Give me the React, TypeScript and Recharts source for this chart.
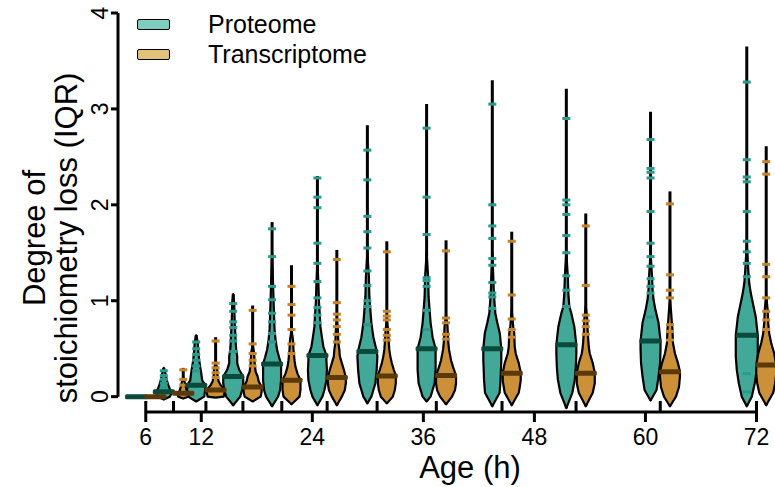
import React from 'react';
import { ComposedChart, Scatter, XAxis, YAxis, ReferenceLine, Legend } from 'recharts';

// sampling ages (h) and axis ticks
const timepoints = [6, 9, 12.5, 16.5, 20.7, 25.6, 31, 37.4, 44.5, 52.5, 61.6, 72];
const ageTicks = [6, 12, 24, 36, 48, 60, 72];
const lossTicks = [0, 1, 2, 3, 4];
const seriesNames = ['Proteome', 'Transcriptome'];

// medians, whisker ranges
const proteomeMedian = [0, 0.05, 0.12, 0.21, 0.34, 0.43, 0.47, 0.5, 0.5, 0.54, 0.58, 0.64];
const proteomeMax = [0, 0.3, 0.64, 1.07, 1.82, 2.3, 2.83, 3.05, 3.3, 3.21, 2.97, 3.65];
const proteomeMin = [0, -0.03, -0.05, -0.09, -0.1, -0.09, -0.07, -0.05, -0.1, -0.12, -0.04, -0.1];

const transcriptomeMedian = [0, 0.035, 0.07, 0.1, 0.17, 0.2, 0.215, 0.22, 0.245, 0.245, 0.26, 0.33];
const transcriptomeMax = [0, 0.3, 0.62, 0.95, 1.37, 1.53, 1.62, 1.63, 1.72, 1.91, 2.14, 2.61];
const transcriptomeMin = [0, -0.02, -0.01, -0.05, -0.08, -0.09, -0.07, -0.08, -0.09, -0.1, -0.1, -0.09];

// violin density profiles: [value, relative density]
const proteomeDensity: [number, number][][] = [
  [],
  [[-0.03, 0], [0, 0.6], [0.04, 0.8], [0.08, 0.6], [0.12, 0.45], [0.17, 0.3], [0.23, 0.2], [0.3, 0]],
  [[-0.05, 0], [0, 0.8], [0.07, 0.9], [0.12, 0.9], [0.17, 0.6], [0.25, 0.5], [0.31, 0.4], [0.38, 0.3], [0.48, 0.2], [0.57, 0.15], [0.64, 0]],
  [[-0.09, 0], [0, 0.7], [0.07, 0.9], [0.14, 1.0], [0.21, 1.0], [0.28, 0.6], [0.35, 0.4], [0.42, 0.4], [0.49, 0.3], [0.56, 0.25], [0.67, 0.2], [0.77, 0.15], [0.98, 0.1], [1.07, 0]],
  [[-0.1, 0], [0, 0.6], [0.07, 0.8], [0.17, 0.9], [0.28, 0.9], [0.34, 0.9], [0.41, 0.7], [0.49, 0.5], [0.59, 0.35], [0.7, 0.25], [0.83, 0.2], [1.0, 0.15], [1.18, 0.1], [1.5, 0]],
  [[-0.09, 0], [0, 0.5], [0.07, 0.7], [0.17, 0.9], [0.28, 0.95], [0.38, 0.9], [0.43, 0.9], [0.52, 0.6], [0.62, 0.45], [0.73, 0.3], [0.83, 0.25], [1.0, 0.15], [1.18, 0.1], [1.4, 0]],
  [[-0.07, 0], [0, 0.4], [0.14, 0.8], [0.28, 0.93], [0.42, 1.0], [0.49, 0.9], [0.62, 0.6], [0.77, 0.4], [0.9, 0.3], [1.04, 0.2], [1.25, 0.15], [1.5, 0]],
  [[-0.05, 0], [0, 0.4], [0.14, 0.8], [0.28, 0.9], [0.42, 0.9], [0.5, 0.9], [0.62, 0.6], [0.77, 0.4], [0.9, 0.3], [1.04, 0.2], [1.25, 0.15], [1.5, 0]],
  [[-0.1, 0], [0.04, 0.73], [0.18, 0.83], [0.25, 0.85], [0.38, 0.9], [0.5, 0.9], [0.66, 0.75], [0.77, 0.5], [0.87, 0.3], [0.94, 0.25], [1.08, 0.15], [1.25, 0.1], [1.5, 0]],
  [[-0.12, 0], [0.04, 0.6], [0.18, 0.85], [0.31, 0.95], [0.45, 1.0], [0.54, 1.0], [0.73, 0.8], [0.87, 0.5], [0.94, 0.3], [1.08, 0.2], [1.25, 0.15], [1.5, 0]],
  [[-0.04, 0], [0.07, 0.6], [0.21, 0.8], [0.35, 0.95], [0.49, 1.0], [0.58, 1.0], [0.77, 0.8], [0.9, 0.5], [1.01, 0.3], [1.12, 0.2], [1.25, 0.15], [1.5, 0]],
  [[-0.1, 0], [0, 0.5], [0.14, 0.8], [0.28, 1.0], [0.42, 1.1], [0.56, 1.1], [0.64, 1.1], [0.83, 0.9], [0.98, 0.6], [1.08, 0.4], [1.18, 0.25], [1.32, 0.15], [1.6, 0]],
];

const transcriptomeDensity: [number, number][][] = [
  [],
  [[-0.02, 0], [0, 0.5], [0.03, 0.6], [0.05, 0.4], [0.1, 0.25], [0.15, 0.15], [0.2, 0]],
  [[-0.01, 0], [0, 0.8], [0.05, 0.9], [0.07, 0.9], [0.12, 0.5], [0.16, 0.3], [0.21, 0.2], [0.3, 0.15], [0.35, 0]],
  [[-0.05, 0], [0, 0.8], [0.05, 0.9], [0.1, 0.9], [0.16, 0.6], [0.21, 0.5], [0.26, 0.3], [0.35, 0.2], [0.45, 0.15], [0.55, 0]],
  [[-0.08, 0], [0, 0.8], [0.07, 0.9], [0.17, 0.9], [0.24, 0.6], [0.31, 0.4], [0.38, 0.3], [0.49, 0.2], [0.59, 0.15], [0.7, 0]],
  [[-0.09, 0], [0, 0.5], [0.07, 0.8], [0.14, 0.9], [0.2, 0.9], [0.28, 0.7], [0.35, 0.5], [0.42, 0.3], [0.49, 0.25], [0.56, 0.15], [0.7, 0.1], [0.8, 0]],
  [[-0.07, 0], [0, 0.6], [0.07, 0.8], [0.14, 0.9], [0.22, 0.9], [0.28, 0.7], [0.35, 0.5], [0.42, 0.35], [0.49, 0.25], [0.56, 0.2], [0.7, 0.12], [0.8, 0]],
  [[-0.08, 0], [0, 0.6], [0.07, 0.9], [0.14, 1.0], [0.22, 1.0], [0.31, 0.7], [0.38, 0.5], [0.49, 0.3], [0.59, 0.2], [0.73, 0.15], [0.85, 0]],
  [[-0.09, 0], [0.04, 0.7], [0.1, 0.8], [0.17, 0.9], [0.25, 0.9], [0.35, 0.7], [0.45, 0.4], [0.52, 0.3], [0.66, 0.25], [0.73, 0.15], [0.9, 0]],
  [[-0.1, 0], [0.04, 0.7], [0.14, 0.9], [0.25, 0.9], [0.35, 0.7], [0.45, 0.4], [0.52, 0.3], [0.66, 0.2], [0.8, 0.15], [0.95, 0]],
  [[-0.1, 0], [0, 0.6], [0.1, 0.9], [0.21, 1.0], [0.26, 1.0], [0.35, 0.8], [0.45, 0.5], [0.56, 0.3], [0.7, 0.25], [0.76, 0.2], [0.9, 0.1], [1.0, 0]],
  [[-0.09, 0], [0.04, 0.7], [0.14, 0.9], [0.24, 1.0], [0.33, 1.0], [0.45, 0.8], [0.56, 0.5], [0.66, 0.3], [0.77, 0.2], [0.9, 0.15], [1.05, 0]],
];

// individual points visible along the whiskers
const proteomePoints = [
  [],
  [0.27, 0.22, 0.18, 0.14, 0.1],
  [0.57, 0.5, 0.44, 0.38, 0.32, 0.27],
  [0.97, 0.89, 0.78, 0.72, 0.64, 0.58, 0.47],
  [1.75, 1.46, 1.15, 1.01, 0.87, 0.78, 0.66, 0.57],
  [2.28, 2.08, 1.97, 1.6, 1.39, 1.2, 1.03, 0.93, 0.85, 0.77],
  [2.57, 2.26, 1.88, 1.72, 1.55, 1.31, 1.16, 1.0, 0.94, 0.75],
  [2.8, 2.08, 1.69, 1.24, 1.21, 1.15, 0.9, 0.7],
  [3.05, 2.0, 1.78, 1.65, 1.44, 1.37, 1.19, 1.08, 1.04, 0.92],
  [2.9, 2.05, 2.0, 1.9, 1.68, 1.5, 1.26, 1.11, 0.94],
  [2.68, 2.38, 2.34, 2.28, 1.93, 1.6, 1.46, 1.36, 1.23, 1.15, 1.08, 0.83],
  [3.28, 2.47, 2.29, 2.24, 1.93, 1.62, 1.51, 1.39, 1.25, 0.24, 0.05],
];

const transcriptomePoints = [
  [],
  [0.28, 0.18, 0.12],
  [0.58, 0.35, 0.3, 0.25, 0.2],
  [0.9, 0.55, 0.45, 0.38, 0.32],
  [1.15, 0.96, 0.85, 0.7, 0.55, 0.45],
  [1.43, 0.98, 0.86, 0.8, 0.73, 0.65, 0.57],
  [1.51, 0.89, 0.84, 0.8, 0.7, 0.64, 0.59],
  [1.52, 0.82, 0.77, 0.65, 0.6],
  [1.62, 1.06, 0.81, 0.7, 0.62],
  [1.78, 1.16, 0.85, 0.79, 0.73, 0.65],
  [2.01, 1.27, 1.11, 1.03, 0.75, 0.68, 0.59],
  [2.45, 2.32, 1.38, 1.25, 1.03, 0.89, 0.8, 0.7],
];

const FONT = '"Liberation Sans", Arial, Helvetica, sans-serif';
const DODGE = 1.05; // hours either side of the sampling age
const HALF_WIDTH = 1.08; // hours for a density of 1
const Y_BASE = -0.16;

const groups = [
  { name: seriesNames[0], offset: -DODGE, median: proteomeMedian, max: proteomeMax, min: proteomeMin, density: proteomeDensity, points: proteomePoints, fill: '#42a898', dot: '#2a9a8c', dark: '#0a4a3b', key: '#7fcdbf' },
  { name: seriesNames[1], offset: DODGE, median: transcriptomeMedian, max: transcriptomeMax, min: transcriptomeMin, density: transcriptomeDensity, points: transcriptomePoints, fill: '#cc9038', dot: '#c4832a', dark: '#5a390b', key: '#e2c17c' },
];

const outline = (center: number, dens: [number, number][]) => {
  const right = dens.map(([v, d]) => ({ x: center + d * HALF_WIDTH, y: v }));
  const left = dens.slice().reverse().map(([v, d]) => ({ x: center - d * HALF_WIDTH, y: v }));
  return [...right, ...left];
};

const polygon = (fill: string) => (p: any) => {
  const pts = (p.points || []).filter((pt: any) => pt.x != null && pt.y != null);
  if (!pts.length) return <g />;
  const d = pts.map((pt: any, i: number) => `${i ? 'L' : 'M'}${pt.x},${pt.y}`).join('') + 'Z';
  return <path d={d} fill={fill} stroke="#000" strokeWidth={2.2} strokeLinejoin="round" />;
};

const whisker = (p: any) => {
  const pts = p.points || [];
  if (pts.length < 2) return <g />;
  return <line x1={pts[0].x} y1={pts[0].y} x2={pts[1].x} y2={pts[1].y} stroke="#000" strokeWidth={3} />;
};

const noDot = () => <g />;

const XTick = (props: any) => {
  const { x, y, payload } = props;
  return (
    <text x={x} y={y + 21} textAnchor="middle" fontSize={23} fontFamily={FONT} fill="#000">
      {payload.value}
    </text>
  );
};

const YTick = (props: any) => {
  const { x, y, payload } = props;
  return (
    <text x={x} y={y} transform={`rotate(-90, ${x}, ${y})`} textAnchor="middle" fontSize={23} fontFamily={FONT} fill="#000">
      {payload.value}
    </text>
  );
};

const YTitle = () => {
  const cy = 238;
  return (
    <g fontFamily={FONT} fontSize={31} fill="#000">
      <text x={45} y={cy} transform={`rotate(-90, 45, ${cy})`} textAnchor="middle">Degree of</text>
      <text x={77} y={cy} transform={`rotate(-90, 77, ${cy})`} textAnchor="middle">stoichiometry loss (IQR)</text>
    </g>
  );
};

const XTitle = () => (
  <text x={470} y={478} textAnchor="middle" fontFamily={FONT} fontSize={31} fill="#000">Age (h)</text>
);

const LegendBox = () => (
  <div style={{ fontFamily: FONT, fontSize: 25, color: '#000', lineHeight: '30px' }}>
    {groups.map((g) => (
      <div key={g.name} style={{ display: 'flex', alignItems: 'center', height: 30 }}>
        <span style={{ display: 'inline-block', width: 31, height: 9, background: g.key, border: '1.5px solid #000', borderRadius: 2, marginRight: 38 }} />
        {g.name}
      </div>
    ))}
  </div>
);

export default function App() {
  return (
    <div style={{ position: 'absolute', left: 0, top: 0, background: '#fff' }}>
      <ComposedChart width={775} height={487} margin={{ top: 13, right: 0, bottom: 0, left: 0 }}>
        <XAxis
          type="number"
          dataKey="x"
          domain={[3, 74]}
          allowDataOverflow
          ticks={ageTicks}
          interval={0}
          height={75}
          axisLine={false}
          tickSize={10}
          tickLine={{ stroke: '#000', strokeWidth: 3 }}
          tick={<XTick />}
          label={<XTitle />}
        />
        <YAxis
          type="number"
          dataKey="y"
          domain={[Y_BASE, 4]}
          allowDataOverflow
          ticks={lossTicks}
          interval={0}
          width={118}
          axisLine={false}
          tickSize={7}
          tickMargin={3}
          tickLine={{ stroke: '#000', strokeWidth: 3 }}
          tick={<YTick />}
          label={<YTitle />}
        />
        <ReferenceLine segment={[{ x: 3, y: 0 }, { x: 3, y: 4 }]} stroke="#000" strokeWidth={3} ifOverflow="visible" />
        <ReferenceLine segment={[{ x: 6, y: Y_BASE }, { x: 72, y: Y_BASE }]} stroke="#000" strokeWidth={3} ifOverflow="visible" />
        <Scatter
          data={timepoints.map((t) => ({ x: t, y: Y_BASE }))}
          isAnimationActive={false}
          shape={(p: any) => <rect x={p.cx - 1.5} y={p.cy - 11} width={3} height={11} fill="#000" />}
        />
        {groups.map((g) =>
          timepoints.map((t, i) =>
            g.max[i] > 0 ? (
              <Scatter
                key={`w-${g.name}-${t}`}
                data={[{ x: t + g.offset, y: g.min[i] }, { x: t + g.offset, y: g.max[i] }]}
                isAnimationActive={false}
                line={whisker}
                shape={noDot}
              />
            ) : null
          )
        )}
        {groups.map((g) =>
          timepoints.map((t, i) =>
            g.density[i].length ? (
              <Scatter
                key={`v-${g.name}-${t}`}
                data={outline(t + g.offset, g.density[i])}
                isAnimationActive={false}
                line={polygon(g.fill)}
                shape={noDot}
              />
            ) : null
          )
        )}
        {groups.map((g) => (
          <Scatter
            key={`p-${g.name}`}
            data={timepoints.flatMap((t, i) => g.points[i].map((v) => ({ x: t + g.offset, y: v })))}
            isAnimationActive={false}
            shape={(p: any) => <rect x={p.cx - 4} y={p.cy - 1.5} width={8} height={3} fill={g.dot} />}
          />
        ))}
        {groups.map((g) => (
          <Scatter
            key={`m-${g.name}`}
            data={timepoints.map((t, i) => ({ x: t + g.offset, y: g.median[i] }))}
            isAnimationActive={false}
            shape={(p: any) => <rect x={p.cx - 11} y={p.cy - 2.5} width={22} height={5} rx={1.5} fill={g.dark} />}
          />
        ))}
        <Legend
          layout="vertical"
          align="center"
          verticalAlign="middle"
          content={<LegendBox />}
          wrapperStyle={{ position: 'absolute', left: 137, top: 9, width: 260 }}
        />
      </ComposedChart>
    </div>
  );
}
